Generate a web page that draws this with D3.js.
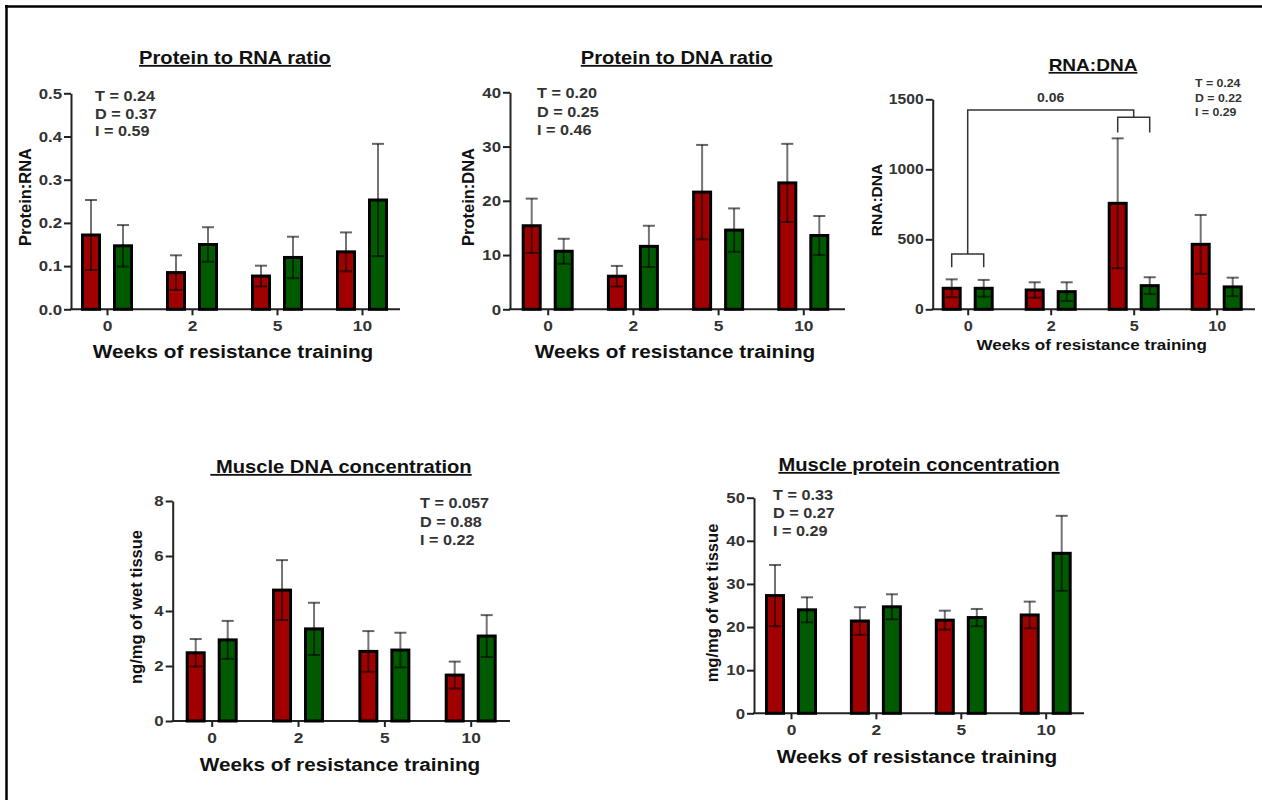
<!DOCTYPE html>
<html><head><meta charset="utf-8">
<script src="https://cdn.jsdelivr.net/npm/d3@7"></script>
<style>
html,body{margin:0;padding:0;background:#fff;}
svg{display:block;font-family:"Liberation Sans",Arial,sans-serif;}
</style></head>
<body>
<svg id="chart" width="1262" height="800"></svg>
<script>
// ---------- DATA ----------
const weeks = ["0", "2", "5", "10"];
const groups = ["red", "green"];

const protRnaRed      = [0.172, 0.085, 0.077, 0.133];
const protRnaRedErr   = [0.081, 0.040, 0.024, 0.045];
const protRnaGreen    = [0.147, 0.150, 0.120, 0.253];
const protRnaGreenErr = [0.048, 0.040, 0.048, 0.130];
const protRnaTicks    = [0, 0.1, 0.2, 0.3, 0.4, 0.5];
const protRnaStats    = ["T = 0.24", "D = 0.37", "I = 0.59"];

const protDnaRed      = [15.4, 6.1, 21.6, 23.3];
const protDnaRedErr   = [5.0, 1.9, 8.7, 7.2];
const protDnaGreen    = [10.7, 11.6, 14.6, 13.6];
const protDnaGreenErr = [2.3, 3.8, 4.0, 3.6];
const protDnaTicks    = [0, 10, 20, 30, 40];
const protDnaStats    = ["T = 0.20", "D = 0.25", "I = 0.46"];

const rnaDnaRed       = [150, 138, 757, 464];
const rnaDnaRedErr    = [64, 55, 464, 210];
const rnaDnaGreen     = [150, 126, 169, 160];
const rnaDnaGreenErr  = [60, 67, 60, 66];
const rnaDnaTicks     = [0, 500, 1000, 1500];
const rnaDnaStats     = ["T = 0.24", "D = 0.22", "I = 0.29"];
const rnaDnaBracketLabel = "0.06";
// bracket levels (data units): [group, bracket level, leg end]
const rnaDnaBrackets  = [["0", 395, 300], ["5", 1371, 1262]];
const rnaDnaConnector = 1424;

const dnaConcRed      = [2.48, 4.76, 2.53, 1.67];
const dnaConcRedErr   = [0.50, 1.09, 0.74, 0.49];
const dnaConcGreen    = [2.95, 3.35, 2.58, 3.09];
const dnaConcGreenErr = [0.69, 0.95, 0.63, 0.76];
const dnaConcTicks    = [0, 2, 4, 6, 8];
const dnaConcStats    = ["T = 0.057", "D = 0.88", "I = 0.22"];

const protConcRed      = [27.3, 21.4, 21.6, 22.8];
const protConcRedErr   = [7.1, 3.2, 2.2, 3.1];
const protConcGreen    = [24.0, 24.7, 22.2, 37.1];
const protConcGreenErr = [2.9, 2.9, 2.0, 8.7];
const protConcTicks    = [0, 10, 20, 30, 40, 50];
const protConcStats    = ["T = 0.33", "D = 0.27", "I = 0.29"];

const xAxisTitle = "Weeks of resistance training";

// ---------- STYLE ----------
const RED = "#a00000", GREEN = "#005a00";
const SX = 1.12; // horizontal text stretch of the original figure

const svg = d3.select("#chart");

// frame lines
svg.append("line").attr("x1", 5).attr("x2", 1262).attr("y1", 6.5).attr("y2", 6.5)
  .attr("stroke", "#000").attr("stroke-width", 2.5);
svg.append("line").attr("x1", 6.5).attr("x2", 6.5).attr("y1", 5).attr("y2", 800)
  .attr("stroke", "#000").attr("stroke-width", 2.5);

function txt(g, x, y, s, size, opts = {}) {
  const t = g.append("text")
    .attr("transform", `translate(${x},${y}) ${opts.rotate ? "rotate(" + opts.rotate + ")" : ""} scale(${opts.sx || SX},1)`)
    .attr("text-anchor", opts.anchor || "middle")
    .attr("font-size", size)
    .attr("font-weight", opts.weight || "bold")
    .attr("fill", opts.fill || "#111")
    .style("white-space", "pre")
    .text(s);
  if (opts.underline) t.attr("text-decoration", "underline");
  return t;
}

function panel(cfg) {
  const g = svg.append("g");
  const y = d3.scaleLinear().domain([0, cfg.max]).range([cfg.bot, cfg.top]);
  const x = d3.scalePoint().domain(weeks).range([cfg.c0, cfg.c3]);
  const sub = d3.scaleBand().domain(groups).range([-26, 26]).paddingInner(0.375);
  const bw = sub.bandwidth();
  const ts = cfg.tickSize || 15;

  // y axis
  const ya = g.append("g").attr("transform", `translate(${cfg.ax},0)`)
    .call(d3.axisLeft(y).tickValues(cfg.ticks).tickSize(7).tickPadding(3).tickSizeOuter(0)
      .tickFormat(cfg.fmt ? d3.format(cfg.fmt) : d3.format("d")));
  ya.select(".domain").attr("stroke", "#222").attr("stroke-width", 2);
  ya.selectAll(".tick line").attr("stroke", "#222").attr("stroke-width", 2);
  ya.selectAll(".tick text").attr("font-size", ts).attr("font-weight", "bold")
    .attr("fill", "#333").attr("font-family", "Liberation Sans, Arial, sans-serif")
    .attr("x", 0).attr("transform", `translate(-9,0) scale(${SX},1)`);

  // x axis
  g.append("line").attr("x1", cfg.ax - 1).attr("x2", cfg.xEnd).attr("y1", cfg.bot).attr("y2", cfg.bot)
    .attr("stroke", "#222").attr("stroke-width", 2);
  const xa = g.append("g").attr("transform", `translate(0,${cfg.bot})`)
    .call(d3.axisBottom(x).tickSize(6).tickPadding(5).tickSizeOuter(0));
  xa.select(".domain").remove();
  xa.selectAll(".tick line").attr("stroke", "#222").attr("stroke-width", 2);
  xa.selectAll(".tick text").attr("font-size", ts + 0.5).attr("font-weight", "bold")
    .attr("fill", "#333").attr("font-family", "Liberation Sans, Arial, sans-serif")
    .attr("transform", `scale(${SX},1)`);

  // bars
  const rows = weeks.map((w, i) => ({ w, vals: [
    { k: "red", v: cfg.red[i], e: cfg.redErr[i] },
    { k: "green", v: cfg.green[i], e: cfg.greenErr[i] }] }));
  const gg = g.selectAll(".grp").data(rows).join("g")
    .attr("transform", d => `translate(${x(d.w)},0)`);
  gg.selectAll("rect").data(d => d.vals).join("rect")
    .attr("x", d => sub(d.k) + 1.5)
    .attr("width", bw - 3)
    .attr("y", d => y(d.v))
    .attr("height", d => y(0) - y(d.v))
    .attr("fill", d => d.k === "red" ? RED : GREEN)
    .attr("stroke", "#000").attr("stroke-width", 3);
  // error bars
  const eb = gg.selectAll(".eb").data(d => d.vals).join("g")
    .attr("transform", d => `translate(${sub(d.k) + bw / 2},0)`);
  eb.append("line").attr("y1", d => y(d.v - d.e)).attr("y2", d => y(d.v + d.e))
    .attr("stroke", "rgba(0,0,0,0.55)").attr("stroke-width", 2);
  eb.append("line").attr("x1", -6).attr("x2", 6).attr("y1", d => y(d.v + d.e)).attr("y2", d => y(d.v + d.e))
    .attr("stroke", "rgba(0,0,0,0.6)").attr("stroke-width", 2);
  eb.append("line").attr("x1", -6).attr("x2", 6).attr("y1", d => y(d.v - d.e)).attr("y2", d => y(d.v - d.e))
    .attr("stroke", "rgba(0,0,0,0.6)").attr("stroke-width", 2);

  // titles and labels
  txt(g, cfg.title[1], cfg.title[2], cfg.title[0], cfg.titleSize || 18, { underline: true });
  txt(g, cfg.xl[0], cfg.xl[1], xAxisTitle, cfg.xlSize || 18.5);
  txt(g, cfg.yl[1], cfg.yl[2], cfg.yl[0], cfg.ylSize || 16.5, { rotate: -90, sx: 1 });
  cfg.stats.forEach((s, i) => txt(g, cfg.st[0], cfg.st[1] + i * cfg.st[2], s, cfg.stSize || 14.5,
    { anchor: "start", fill: "#333" }));
  return { g, x, y, sub, bw };
}

panel({ ax: 71, top: 93.3, bot: 309.3, max: 0.5, ticks: protRnaTicks, fmt: ".1f",
  c0: 107, c3: 362, xEnd: 400,
  red: protRnaRed, redErr: protRnaRedErr, green: protRnaGreen, greenErr: protRnaGreenErr,
  title: ["Protein to RNA ratio", 235, 64], xl: [233, 358], yl: ["Protein:RNA", 31, 197],
  stats: protRnaStats, st: [95, 101, 17.5] });

panel({ ax: 510, top: 92.3, bot: 309.3, max: 40, ticks: protDnaTicks,
  c0: 547.7, c3: 803.3, xEnd: 845,
  red: protDnaRed, redErr: protDnaRedErr, green: protDnaGreen, greenErr: protDnaGreenErr,
  title: ["Protein to DNA ratio", 676.7, 64], xl: [675, 358], yl: ["Protein:DNA", 474, 197],
  stats: protDnaStats, st: [537, 98, 18.5] });

const p3 = panel({ ax: 932.7, top: 99.3, bot: 309.3, max: 1500, ticks: rnaDnaTicks,
  c0: 967.7, c3: 1216.7, xEnd: 1255,
  red: rnaDnaRed, redErr: rnaDnaRedErr, green: rnaDnaGreen, greenErr: rnaDnaGreenErr,
  title: ["RNA:DNA", 1093, 71], titleSize: 17, xl: [1091.7, 350], xlSize: 15.2,
  yl: ["RNA:DNA", 882, 200], ylSize: 15.5, tickSize: 14,
  stats: rnaDnaStats, st: [1195, 87, 14.5], stSize: 11 });

// significance brackets on RNA:DNA panel
(function () {
  const { g, x, y, sub, bw } = p3;
  const c = (w, k) => x(w) + sub(k) + bw / 2;
  const bs = g.append("g").attr("fill", "none").attr("stroke", "#333").attr("stroke-width", 1.5);
  rnaDnaBrackets.forEach(([w, lv, leg]) => {
    bs.append("path").attr("d",
      `M${c(w, "red")},${y(leg)}V${y(lv)}H${c(w, "green")}V${y(leg)}`);
  });
  const [w0, l0] = rnaDnaBrackets[0], [w1, l1] = rnaDnaBrackets[1];
  bs.append("path").attr("d",
    `M${x(w0)},${y(l0)}V${y(rnaDnaConnector)}H${x(w1)}V${y(l1)}`);
  txt(g, (x(w0) + x(w1)) / 2, y(rnaDnaConnector) - 8, rnaDnaBracketLabel, 12.5, { fill: "#333" });
})();

panel({ ax: 172.7, top: 501, bot: 721, max: 8, ticks: dnaConcTicks,
  c0: 211.7, c3: 470.7, xEnd: 510,
  red: dnaConcRed, redErr: dnaConcRedErr, green: dnaConcGreen, greenErr: dnaConcGreenErr,
  title: [" Muscle DNA concentration", 341, 473], xl: [340, 771], yl: ["ng/mg of wet tissue", 142, 607],
  stats: dnaConcStats, st: [420, 508, 18.5] });

panel({ ax: 754, top: 497.7, bot: 713.3, max: 50, ticks: protConcTicks,
  c0: 791, c3: 1045.7, xEnd: 1084,
  red: protConcRed, redErr: protConcRedErr, green: protConcGreen, greenErr: protConcGreenErr,
  title: ["Muscle protein concentration", 919, 471], xl: [917, 763], yl: ["mg/mg of wet tissue", 718, 603],
  stats: protConcStats, st: [773, 500, 18] });
</script>
</body></html>
